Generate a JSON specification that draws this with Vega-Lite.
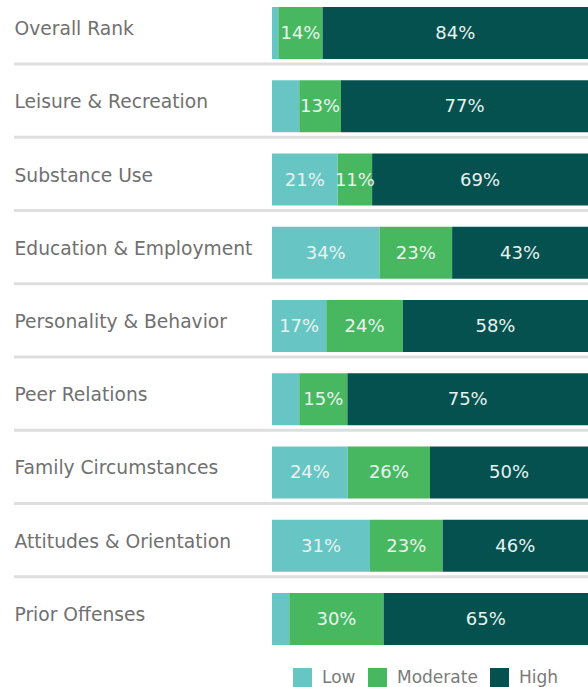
{
  "$schema": "https://vega.github.io/schema/vega-lite/v6.json",
  "autosize": "none",
  "width": 316,
  "height": 652,
  "padding": {"left": 272, "top": 0, "right": 0, "bottom": 35},
  "config": {"view": {"stroke": null}, "font": "DejaVu Sans"},
  "datasets": {
    "bars": [
      {"category": "Overall Rank", "level": "Low", "value": 2},
      {"category": "Overall Rank", "level": "Moderate", "value": 14},
      {"category": "Overall Rank", "level": "High", "value": 84},
      {"category": "Leisure & Recreation", "level": "Low", "value": 8.5},
      {"category": "Leisure & Recreation", "level": "Moderate", "value": 13},
      {"category": "Leisure & Recreation", "level": "High", "value": 77},
      {"category": "Substance Use", "level": "Low", "value": 21},
      {"category": "Substance Use", "level": "Moderate", "value": 11},
      {"category": "Substance Use", "level": "High", "value": 69},
      {"category": "Education & Employment", "level": "Low", "value": 34},
      {"category": "Education & Employment", "level": "Moderate", "value": 23},
      {"category": "Education & Employment", "level": "High", "value": 43},
      {"category": "Personality & Behavior", "level": "Low", "value": 17},
      {"category": "Personality & Behavior", "level": "Moderate", "value": 24},
      {"category": "Personality & Behavior", "level": "High", "value": 58},
      {"category": "Peer Relations", "level": "Low", "value": 8.5},
      {"category": "Peer Relations", "level": "Moderate", "value": 15},
      {"category": "Peer Relations", "level": "High", "value": 75},
      {"category": "Family Circumstances", "level": "Low", "value": 24},
      {"category": "Family Circumstances", "level": "Moderate", "value": 26},
      {"category": "Family Circumstances", "level": "High", "value": 50},
      {"category": "Attitudes & Orientation", "level": "Low", "value": 31},
      {"category": "Attitudes & Orientation", "level": "Moderate", "value": 23},
      {"category": "Attitudes & Orientation", "level": "High", "value": 46},
      {"category": "Prior Offenses", "level": "Low", "value": 5.5},
      {"category": "Prior Offenses", "level": "Moderate", "value": 30},
      {"category": "Prior Offenses", "level": "High", "value": 65}
    ],
    "separators": [
      {"category": "Overall Rank"},
      {"category": "Leisure & Recreation"},
      {"category": "Substance Use"},
      {"category": "Education & Employment"},
      {"category": "Personality & Behavior"},
      {"category": "Peer Relations"},
      {"category": "Family Circumstances"},
      {"category": "Attitudes & Orientation"}
    ]
  },
  "encoding": {
    "y": {
      "field": "category",
      "type": "nominal",
      "sort": null,
      "scale": {
        "domain": ["Overall Rank", "Leisure & Recreation", "Substance Use", "Education & Employment", "Personality & Behavior", "Peer Relations", "Family Circumstances", "Attitudes & Orientation", "Prior Offenses"],
        "paddingInner": 0.29,
        "paddingOuter": 0.0956
      },
      "axis": {
        "title": null,
        "ticks": false,
        "domain": false,
        "labelAlign": "left",
        "labelBaseline": "middle",
        "labelPadding": 258,
        "labelOffset": -4,
        "labelFont": "DejaVu Sans",
        "labelFontSize": 18.7,
        "labelColor": "#707070",
        "labelLimit": 300
      }
    }
  },
  "layer": [
    {
      "data": {"name": "separators"},
      "mark": {"type": "rule", "color": "#dedede", "strokeWidth": 3, "yOffset": 5},
      "encoding": {
        "y": {"field": "category", "type": "nominal", "bandPosition": 1},
        "x": {"value": -258},
        "x2": {"value": 316}
      }
    },
    {
      "data": {"name": "bars"},
      "transform": [
        {"calculate": "indexof(['Low','Moderate','High'], datum.level)", "as": "ord"},
        {"stack": "value", "groupby": ["category"], "sort": [{"field": "ord", "order": "ascending"}], "offset": "normalize", "as": ["x0", "x1"]},
        {"calculate": "(datum.x0 + datum.x1) / 2", "as": "xmid"},
        {"calculate": "round(datum.value) + '%'", "as": "label"}
      ],
      "layer": [
        {
          "mark": {"type": "bar"},
          "encoding": {
            "x": {"field": "x0", "type": "quantitative", "scale": {"domain": [0, 1], "nice": false, "zero": false}, "axis": null},
            "x2": {"field": "x1"},
            "color": {
              "field": "level",
              "type": "nominal",
              "scale": {"domain": ["Low", "Moderate", "High"], "range": ["#67c6c4", "#48b860", "#04514f"]},
              "legend": {
                "title": null,
                "orient": "none",
                "direction": "horizontal",
                "legendX": 21,
                "legendY": 668,
                "symbolType": "square",
                "symbolSize": 361,
                "symbolStrokeWidth": 0,
                "symbolOpacity": 1,
                "labelFont": "DejaVu Sans",
                "labelFontSize": 17,
                "labelColor": "#7a7a7a",
                "labelOffset": 10,
                "columnPadding": 12
              }
            }
          }
        },
        {
          "transform": [{"filter": "datum.value >= 11"}],
          "mark": {"type": "text", "color": "#e8f3f0", "fontSize": 18, "font": "DejaVu Sans", "baseline": "middle", "align": "center", "dy": 1},
          "encoding": {
            "x": {"field": "xmid", "type": "quantitative"},
            "text": {"field": "label"}
          }
        }
      ]
    }
  ]
}
